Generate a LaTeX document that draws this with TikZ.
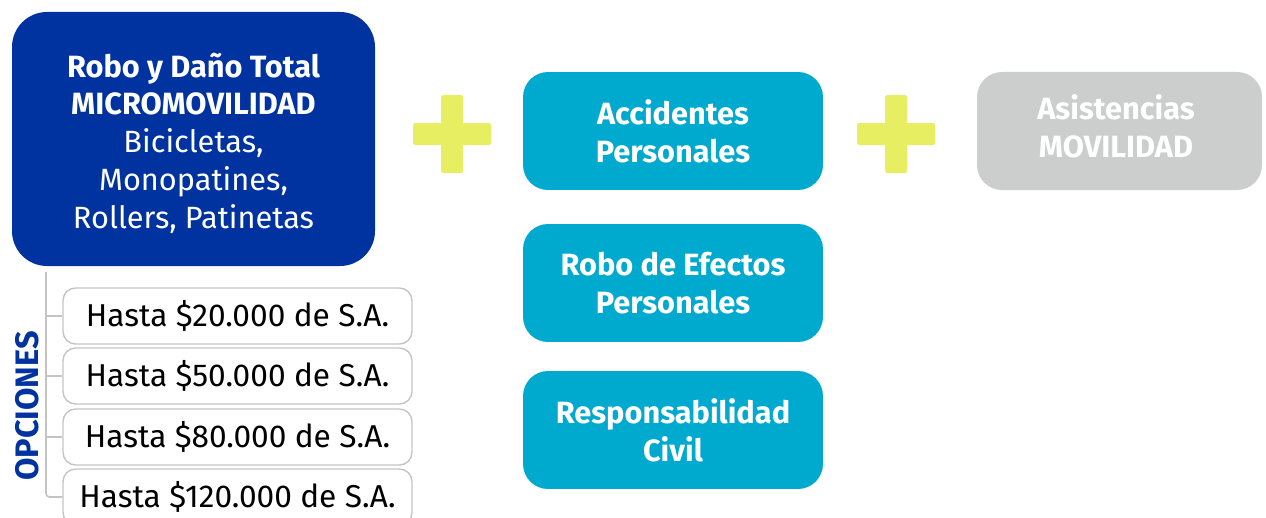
\documentclass[tikz,border=0pt]{standalone}
\usepackage{fontspec}
\setmainfont{Fira Sans}
\usepackage{tikz}
\definecolor{segblue}{RGB}{0,51,160}
\definecolor{segteal}{RGB}{0,169,206}
\definecolor{segyellow}{RGB}{232,238,98}
\definecolor{seggrey}{RGB}{204,205,205}
\definecolor{linegrey}{RGB}{196,196,196}
\newcommand{\txt}{\fontsize{17.5}{21.5}\selectfont}

\begin{document}
\begin{tikzpicture}[x=0.02cm,y=-0.02cm,thick]
  \tikzset{
    cover/.style={fill=segteal,rounded corners=0.5cm,minimum width=6cm,minimum height=2.36cm,text=white,align=center,font=\txt\bfseries},
    option/.style={draw=linegrey,line width=0.8pt,rounded corners=0.25cm,minimum width=6.98cm,minimum height=1.12cm,font=\fontsize{18}{21.5}\selectfont},
    bracket/.style={draw=linegrey,line width=0.9pt},
    plus/.style={fill=segyellow,rounded corners=1pt}
  }
  \useasboundingbox (0,0) rectangle (1266,517);
  \fill[segblue,rounded corners=0.7cm] (12,12) rectangle (375,266);
  \node[text=white,align=center,font=\txt] (M) at (193.5,143) {\textbf{Robo y Daño Total}\\\textbf{MICROMOVILIDAD}\\Bicicletas,\\Monopatines,\\Rollers, Patinetas};
  \node[option] (o1) at (237.5,316) {Hasta \$20.000 de S.A.};
  \node[option] (o2) at (237.5,376) {Hasta \$50.000 de S.A.};
  \node[option] (o3) at (237.5,437) {Hasta \$80.000 de S.A.};
  \node[option] (o4) at (237.5,497) {Hasta \$120.000 de S.A.};
  \node[rotate=90,text=segblue,font=\fontsize{18.5}{20}\selectfont\bfseries] (op) at (27,406) {OPCIONES};
  \coordinate (top) at (46,272);
  \draw[bracket] (top) |- (o1.west);
  \draw[bracket] (top) |- (o2.west);
  \draw[bracket] (top) |- (o3.west);
  \draw[bracket,rounded corners=2pt] (top) |- (o4.west);
  \node[cover] (acc) at (673,131) {Accidentes\\Personales};
  \node[cover] (rob) at (673,283) {Robo de Efectos\\Personales};
  \node[cover] (rc) at (673,430) {Responsabilidad\\Civil};
  \fill[seggrey,rounded corners=0.5cm] (977,72) rectangle (1262,190);
  \node[text=white,align=center,font=\txt\bfseries] (as) at (1116,126) {Asistencias\\MOVILIDAD};
  % plus signs
  \fill[plus] (413,123) rectangle (491,145);
  \fill[plus] (441,95) rectangle (463,173);
  \fill[plus] (857,123) rectangle (935,145);
  \fill[plus] (885,95) rectangle (907,173);
\end{tikzpicture}
\end{document}
